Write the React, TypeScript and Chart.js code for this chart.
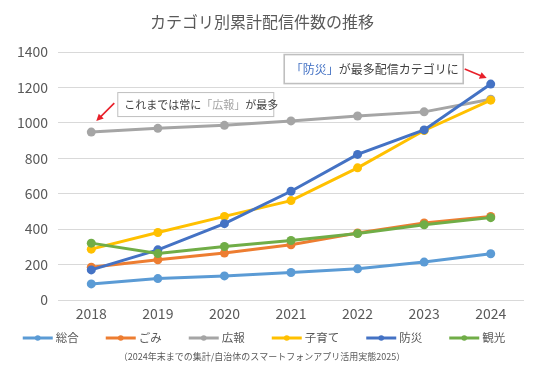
import React, { useEffect, useRef } from "react";
import { Chart, registerables } from "chart.js";

Chart.register(...registerables);

const years = ["2018", "2019", "2020", "2021", "2022", "2023", "2024"];
const sogo = [91, 121, 136, 155, 176, 214, 261];
const gomi = [185, 227, 265, 312, 378, 435, 472];
const koho = [948, 969, 986, 1011, 1039, 1062, 1133];
const kosodate = [287, 381, 472, 561, 746, 957, 1128];
const bosai = [170, 283, 431, 614, 822, 960, 1219];
const kanko = [321, 262, 302, 336, 375, 425, 465];

const seriesNames = ["総合", "ごみ", "広報", "子育て", "防災", "観光"];
const seriesValues = [sogo, gomi, koho, kosodate, bosai, kanko];
const seriesColors = ["#5B9BD5", "#ED7D31", "#A5A5A5", "#FFC000", "#4472C4", "#70AD47"];

const yMin = 0;
const yMax = 1400;
const yStep = 200;

const titleText = "カテゴリ別累計配信件数の推移";
const footnoteText = "（2024年末までの集計/自治体のスマートフォンアプリ活用実態2025）";
const note1 = [
  { t: "これまでは常に", c: "#404040" },
  { t: "「広報」", c: "#A5A5A5" },
  { t: "が最多", c: "#404040" },
];
const note2 = [
  { t: "「防災」", c: "#4472C4" },
  { t: "が最多配信カテゴリに", c: "#404040" },
];

const FONT = '"Noto Sans CJK JP", "Noto Sans", sans-serif';
const TEXT = "#595959";

function drawRich(ctx: CanvasRenderingContext2D, segs: { t: string; c: string }[], x: number, y: number) {
  let cx = x;
  ctx.textAlign = "left";
  ctx.textBaseline = "middle";
  for (const s of segs) {
    ctx.fillStyle = s.c;
    ctx.fillText(s.t, cx, y);
    cx += ctx.measureText(s.t).width;
  }
  return cx;
}

function drawArrow(ctx: CanvasRenderingContext2D, x1: number, y1: number, x2: number, y2: number) {
  const ang = Math.atan2(y2 - y1, x2 - x1);
  const hl = 7;
  const hw = 3.5;
  ctx.strokeStyle = "#E8202A";
  ctx.fillStyle = "#E8202A";
  ctx.lineWidth = 1.6;
  ctx.beginPath();
  ctx.moveTo(x1, y1);
  ctx.lineTo(x2 - Math.cos(ang) * hl * 0.8, y2 - Math.sin(ang) * hl * 0.8);
  ctx.stroke();
  ctx.beginPath();
  ctx.moveTo(x2, y2);
  ctx.lineTo(x2 - Math.cos(ang) * hl - Math.sin(ang) * hw, y2 - Math.sin(ang) * hl + Math.cos(ang) * hw);
  ctx.lineTo(x2 - Math.cos(ang) * hl + Math.sin(ang) * hw, y2 - Math.sin(ang) * hl - Math.cos(ang) * hw);
  ctx.closePath();
  ctx.fill();
}

const overlayPlugin = {
  id: "overlay",
  afterDraw(chart: any) {
    const ctx: CanvasRenderingContext2D = chart.ctx;
    const xs = chart.scales.x;
    const ys = chart.scales.y;
    const cxMid = 262;
    ctx.save();

    // title
    ctx.font = `16px ${FONT}`;
    ctx.fillStyle = TEXT;
    ctx.textAlign = "center";
    ctx.textBaseline = "middle";
    ctx.fillText(titleText, cxMid, 22);

    // annotation 1 (near first 広報 point)
    const p0x = xs.getPixelForValue(0);
    const p0y = ys.getPixelForValue(koho[0]);
    ctx.font = `11px ${FONT}`;
    const b1x = p0x + 26;
    const b1y = p0y - 40;
    const b1w = 156;
    const b1h = 24;
    ctx.fillStyle = "#ffffff";
    ctx.fillRect(b1x, b1y, b1w, b1h);
    ctx.strokeStyle = "#BFBFBF";
    ctx.lineWidth = 1;
    ctx.strokeRect(b1x + 0.5, b1y + 0.5, b1w, b1h);
    drawRich(ctx, note1, b1x + 7, b1y + b1h / 2 + 0.5);
    drawArrow(ctx, p0x + 23, p0y - 29, p0x + 5, p0y - 11);

    // annotation 2 (near last 防災 point)
    const pLx = xs.getPixelForValue(years.length - 1);
    const pLy = ys.getPixelForValue(bosai[bosai.length - 1]);
    ctx.font = `12px ${FONT}`;
    const b2w = 179;
    const b2h = 29;
    const b2x = pLx - 207;
    const b2y = pLy - 30;
    ctx.fillStyle = "#ffffff";
    ctx.fillRect(b2x, b2y, b2w, b2h);
    ctx.strokeStyle = "#BFBFBF";
    ctx.strokeRect(b2x + 0.5, b2y + 0.5, b2w, b2h);
    drawRich(ctx, note2, b2x + 7, b2y + b2h / 2 + 0.5);
    drawArrow(ctx, pLx - 26, pLy - 15, pLx - 4, pLy - 6);

    // legend
    ctx.font = `11.5px ${FONT}`;
    const lineW = 30;
    const gapT = 3;
    const gapItem = 27;
    const widths = seriesNames.map((n) => lineW + gapT + ctx.measureText(n).width);
    const total = widths.reduce((a, b) => a + b, 0) + gapItem * (widths.length - 1);
    let lx = cxMid + 2 - total / 2;
    const ly = 338;
    seriesNames.forEach((n, i) => {
      ctx.strokeStyle = seriesColors[i];
      ctx.lineWidth = 3;
      ctx.beginPath();
      ctx.moveTo(lx, ly);
      ctx.lineTo(lx + lineW, ly);
      ctx.stroke();
      ctx.fillStyle = seriesColors[i];
      ctx.beginPath();
      ctx.arc(lx + lineW / 2, ly, 2.8, 0, Math.PI * 2);
      ctx.fill();
      ctx.fillStyle = TEXT;
      ctx.textAlign = "left";
      ctx.textBaseline = "middle";
      ctx.fillText(n, lx + lineW + gapT, ly);
      lx += widths[i] + gapItem;
    });

    // footnote
    ctx.font = `9px ${FONT}`;
    ctx.fillStyle = TEXT;
    ctx.textAlign = "center";
    ctx.textBaseline = "middle";
    ctx.fillText(footnoteText, cxMid, 357);

    ctx.restore();
  },
};

export default function App() {
  const ref = useRef<HTMLCanvasElement | null>(null);

  useEffect(() => {
    if (!ref.current) return;
    const chart = new Chart(ref.current, {
      type: "line",
      data: {
        labels: years,
        datasets: seriesNames.map((name, i) => ({
          label: name,
          data: seriesValues[i],
          borderColor: seriesColors[i],
          backgroundColor: seriesColors[i],
          borderWidth: 3,
          pointRadius: 4.5,
          pointBorderWidth: 0,
          pointBackgroundColor: seriesColors[i],
          tension: 0,
          order: seriesNames.length - i,
        })),
      },
      options: {
        responsive: false,
        animation: false,
        devicePixelRatio: 1,
        layout: { padding: { top: 52, left: 0, right: 12, bottom: 39 } },
        plugins: {
          legend: { display: false },
          title: { display: false },
          tooltip: { enabled: false },
        },
        scales: {
          x: {
            offset: true,
            grid: { display: false, drawTicks: false },
            border: { display: false },
            ticks: { color: TEXT, font: { family: FONT, size: 14 }, padding: 5 },
            afterFit: (s: any) => {
              s.height = 30;
            },
          },
          y: {
            min: yMin,
            max: yMax,
            grid: { color: "#D9D9D9", drawTicks: false, lineWidth: 1 },
            border: { display: false },
            ticks: {
              stepSize: yStep,
              color: TEXT,
              font: { family: FONT, size: 14 },
              padding: 10,
              callback: (v: any) => String(v),
            },
            afterFit: (s: any) => {
              s.width = 58;
            },
          },
        },
      },
      plugins: [overlayPlugin],
    });
    return () => chart.destroy();
  }, []);

  return (
    <div style={{ position: "absolute", left: 0, top: 0, width: 536, height: 369, background: "#fff" }}>
      <canvas ref={ref} width={536} height={369} style={{ display: "block", width: 536, height: 369 }} />
    </div>
  );
}
